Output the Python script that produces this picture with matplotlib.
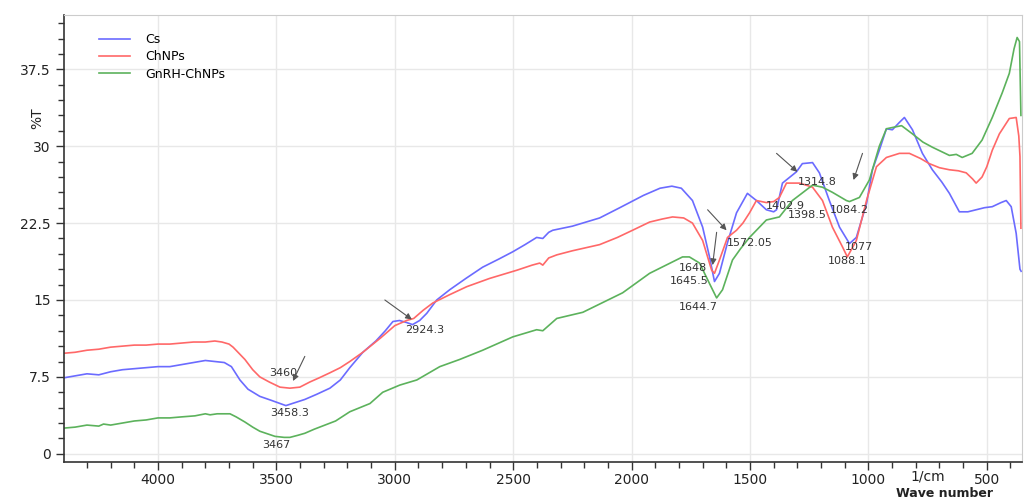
import numpy as np
import matplotlib.pyplot as plt
from matplotlib.ticker import MultipleLocator
from matplotlib.transforms import blended_transform_factory

# FTIR spectra: wavenumber (1/cm) and transmittance (%T)
cs_wn = [4400, 4350, 4300, 4250, 4200, 4150, 4100, 4050, 4000, 3950, 3900, 3850,
         3800, 3760, 3720, 3690, 3654, 3620, 3570, 3520, 3460, 3420, 3380, 3330,
         3274, 3230, 3190, 3135, 3080, 3040, 3008, 2980, 2950, 2925, 2895, 2865,
         2823, 2768, 2700, 2629, 2560, 2502, 2450, 2401, 2375, 2350, 2333, 2250,
         2135, 2050, 1950, 1880, 1830, 1790, 1743, 1700, 1671, 1650, 1629, 1595,
         1557, 1511, 1473, 1431, 1400, 1388, 1363, 1304, 1279, 1236, 1207, 1165,
         1122, 1080, 1051, 1008, 983, 954, 924, 899, 870, 848, 814, 772, 730, 690,
         658, 616, 580, 545, 510, 477, 440, 418, 397, 376, 360, 355]
cs_t = [7.4, 7.6, 7.8, 7.7, 8.0, 8.2, 8.3, 8.4, 8.5, 8.5, 8.7, 8.9,
        9.1, 9.0, 8.9, 8.5, 7.2, 6.3, 5.6, 5.2, 4.7, 5.0, 5.3, 5.8,
        6.4, 7.2, 8.4, 9.9, 11.0, 12.0, 12.9, 13.0, 12.8, 12.6, 13.0, 13.7,
        15.0, 16.0, 17.1, 18.2, 19.0, 19.7, 20.4, 21.1, 21.0, 21.6, 21.8, 22.2,
        23.0, 24.0, 25.2, 25.9, 26.1, 25.9, 24.7, 22.1, 19.2, 16.8, 17.6, 20.6,
        23.5, 25.4, 24.7, 23.8, 23.6, 23.8, 26.4, 27.5, 28.3, 28.4, 27.4, 24.7,
        22.1, 20.5, 21.1, 24.4, 27.7, 29.6, 31.7, 31.6, 32.3, 32.8, 31.6, 29.3, 27.7, 26.5,
        25.4, 23.6, 23.6, 23.8, 24.0, 24.1, 24.5, 24.7, 24.1, 21.5, 18.0, 17.8]

chnps_wn = [4400, 4350, 4300, 4250, 4200, 4150, 4100, 4050, 4000, 3950, 3900, 3850,
            3800, 3760, 3730, 3700, 3683, 3633, 3600, 3570, 3530, 3485, 3443, 3401,
            3359, 3320, 3274, 3230, 3190, 3135, 3060, 3000, 2950, 2920, 2880, 2840,
            2770, 2696, 2600, 2485, 2420, 2388, 2375, 2350, 2316, 2250, 2135, 2060,
            1996, 1924, 1870, 1827, 1780, 1743, 1700, 1662, 1650, 1629, 1595, 1557,
            1530, 1502, 1473, 1431, 1400, 1376, 1346, 1291, 1236, 1194, 1152, 1110,
            1089, 1051, 1008, 966, 924, 869, 827, 780, 743, 700, 658, 620, 587, 560,
            545, 520, 500, 477, 447, 405, 376, 365, 360, 356]
chnps_t = [9.8, 9.9, 10.1, 10.2, 10.4, 10.5, 10.6, 10.6, 10.7, 10.7, 10.8, 10.9,
           10.9, 11.0, 10.9, 10.7, 10.4, 9.2, 8.2, 7.5, 7.0, 6.5, 6.4, 6.5,
           7.0, 7.4, 7.9, 8.4, 9.0, 9.9, 11.3, 12.5, 13.0, 13.2, 14.0, 14.7,
           15.5, 16.3, 17.1, 17.9, 18.4, 18.6, 18.4, 19.1, 19.4, 19.8, 20.4, 21.1,
           21.8, 22.6, 22.9, 23.1, 23.0, 22.5, 20.8, 17.9, 17.6, 18.9, 21.1, 21.8,
           22.5, 23.5, 24.7, 24.5, 24.6, 25.0, 26.4, 26.4, 26.0, 24.7, 22.1, 20.2,
           19.2, 20.8, 24.7, 28.0, 28.9, 29.3, 29.3, 28.8, 28.3, 27.9, 27.7, 27.6, 27.4, 26.8,
           26.4, 27.0, 28.0, 29.6, 31.2, 32.7, 32.8, 31.0, 29.0, 22.0]

gnrh_wn = [4400, 4350, 4300, 4250, 4230, 4200, 4150, 4100, 4050, 4000, 3950, 3900,
           3844, 3800, 3780, 3750, 3720, 3696, 3670, 3633, 3600, 3570, 3506, 3467,
           3443, 3410, 3380, 3340, 3295, 3250, 3190, 3105, 3051, 2979, 2907, 2810,
           2726, 2629, 2502, 2401, 2375, 2316, 2206, 2038, 1924, 1785, 1756, 1713,
           1671, 1641, 1616, 1574, 1540, 1502, 1431, 1376, 1321, 1236, 1194, 1152,
           1093, 1080, 1038, 996, 954, 924, 882, 860, 814, 770, 730, 658, 629, 604,
           562, 520, 477, 435, 405, 385, 372, 362, 356]
gnrh_t = [2.5, 2.6, 2.8, 2.7, 2.9, 2.8, 3.0, 3.2, 3.3, 3.5, 3.5, 3.6,
          3.7, 3.9, 3.8, 3.9, 3.9, 3.9, 3.6, 3.1, 2.6, 2.2, 1.7, 1.6,
          1.6, 1.8, 2.0, 2.4, 2.8, 3.2, 4.1, 4.9, 6.0, 6.7, 7.2, 8.5,
          9.2, 10.1, 11.4, 12.1, 12.0, 13.2, 13.8, 15.7, 17.6, 19.2, 19.2, 18.6,
          16.6, 15.2, 16.0, 18.9, 20.0, 21.1, 22.8, 23.1, 24.7, 26.2, 26.0, 25.5,
          24.7, 24.6, 25.0, 26.7, 30.0, 31.7, 31.9, 32.0, 31.2, 30.4, 29.9, 29.1, 29.2, 28.9,
          29.3, 30.6, 32.8, 35.2, 37.1, 39.5, 40.6, 40.2, 33.0]

# peak labels: text, position
peak_labels = ["3460", "3458.3", "3467", "2924.3", "1648", "1645.5", "1644.7",
               "1572.05", "1402.9", "1398.5", "1314.8", "1084.2", "1077", "1088.1"]
peak_label_x = [3473, 3443, 3500, 2873, 1743, 1755, 1717, 1502, 1350, 1257, 1215, 1080, 1038, 1089]
peak_label_y = [7.9, 4.0, 0.9, 12.1, 18.1, 16.9, 14.3, 20.6, 24.2, 23.3, 26.5, 23.8, 20.2, 18.8]

# arrows: tail -> head
arrow_tail = [(3380, 9.5), (3042, 15.0), (1641, 21.6), (1679, 23.8), (1388, 29.3), (1025, 29.3)]
arrow_head = [(3430, 7.1), (2928, 13.1), (1658, 18.4), (1599, 21.8), (1300, 27.5), (1063, 26.7)]

fig = plt.figure(figsize=(10.27, 4.98), dpi=100)
ax = fig.add_axes([0.0623, 0.0723, 0.9327, 0.8977])

ax.plot(cs_wn, cs_t, color="#6b6bff", lw=1.2, label="Cs")
ax.plot(chnps_wn, chnps_t, color="#ff6868", lw=1.2, label="ChNPs")
ax.plot(gnrh_wn, gnrh_t, color="#5cb25c", lw=1.2, label="GnRH-ChNPs")

for txt, x, y in zip(peak_labels, peak_label_x, peak_label_y):
    ax.text(x, y, txt, fontsize=8, color="#333333", ha="center", va="center")

for tail, head in zip(arrow_tail, arrow_head):
    ax.annotate("", xy=head, xytext=tail,
                arrowprops=dict(arrowstyle="-|>", color="#555555", lw=0.8,
                                mutation_scale=9, shrinkA=0, shrinkB=0))

ax.set_xlim(4397, 352)
ax.set_ylim(-0.8, 42.8)

ax.xaxis.set_major_locator(MultipleLocator(500))
ax.xaxis.set_minor_locator(MultipleLocator(100))
ax.yaxis.set_major_locator(MultipleLocator(7.5))
ax.yaxis.set_minor_locator(MultipleLocator(1.5))
ax.set_yticks([0, 7.5, 15, 22.5, 30, 37.5])
ax.set_yticklabels(["0", "7.5", "15", "22.5", "30", "37.5"])

ax.tick_params(axis="both", which="major", length=6, width=1, color="#333333",
               labelsize=10, labelcolor="#222222")
ax.tick_params(axis="x", which="major", pad=2)
ax.tick_params(axis="both", which="minor", length=4, width=1, color="#333333")

ax.grid(True, which="major", color="#e8e8e8", lw=1)
ax.set_axisbelow(True)

for side in ["left", "bottom"]:
    ax.spines[side].set_color("#333333")
    ax.spines[side].set_linewidth(1.2)
for side in ["top", "right"]:
    ax.spines[side].set_color("#cccccc")

ax.set_ylabel("%T", fontsize=10, color="#222222")
ax.yaxis.set_label_coords(-0.021, 0.77)

trans = blended_transform_factory(ax.transData, ax.transAxes)
ax.text(750, -0.033, "1/cm", transform=trans, fontsize=10, color="#222222",
        ha="center", va="center")
ax.text(0.92, 0.009, "Wave number", transform=fig.transFigure, fontsize=9,
        fontweight="bold", color="#222222", ha="center", va="center")

ax.legend(loc="upper left", bbox_to_anchor=(0.025, 0.985), frameon=False,
          fontsize=9, handlelength=2.5, handletextpad=1.2, labelspacing=0.35)

fig.savefig("out.png", dpi=100)
